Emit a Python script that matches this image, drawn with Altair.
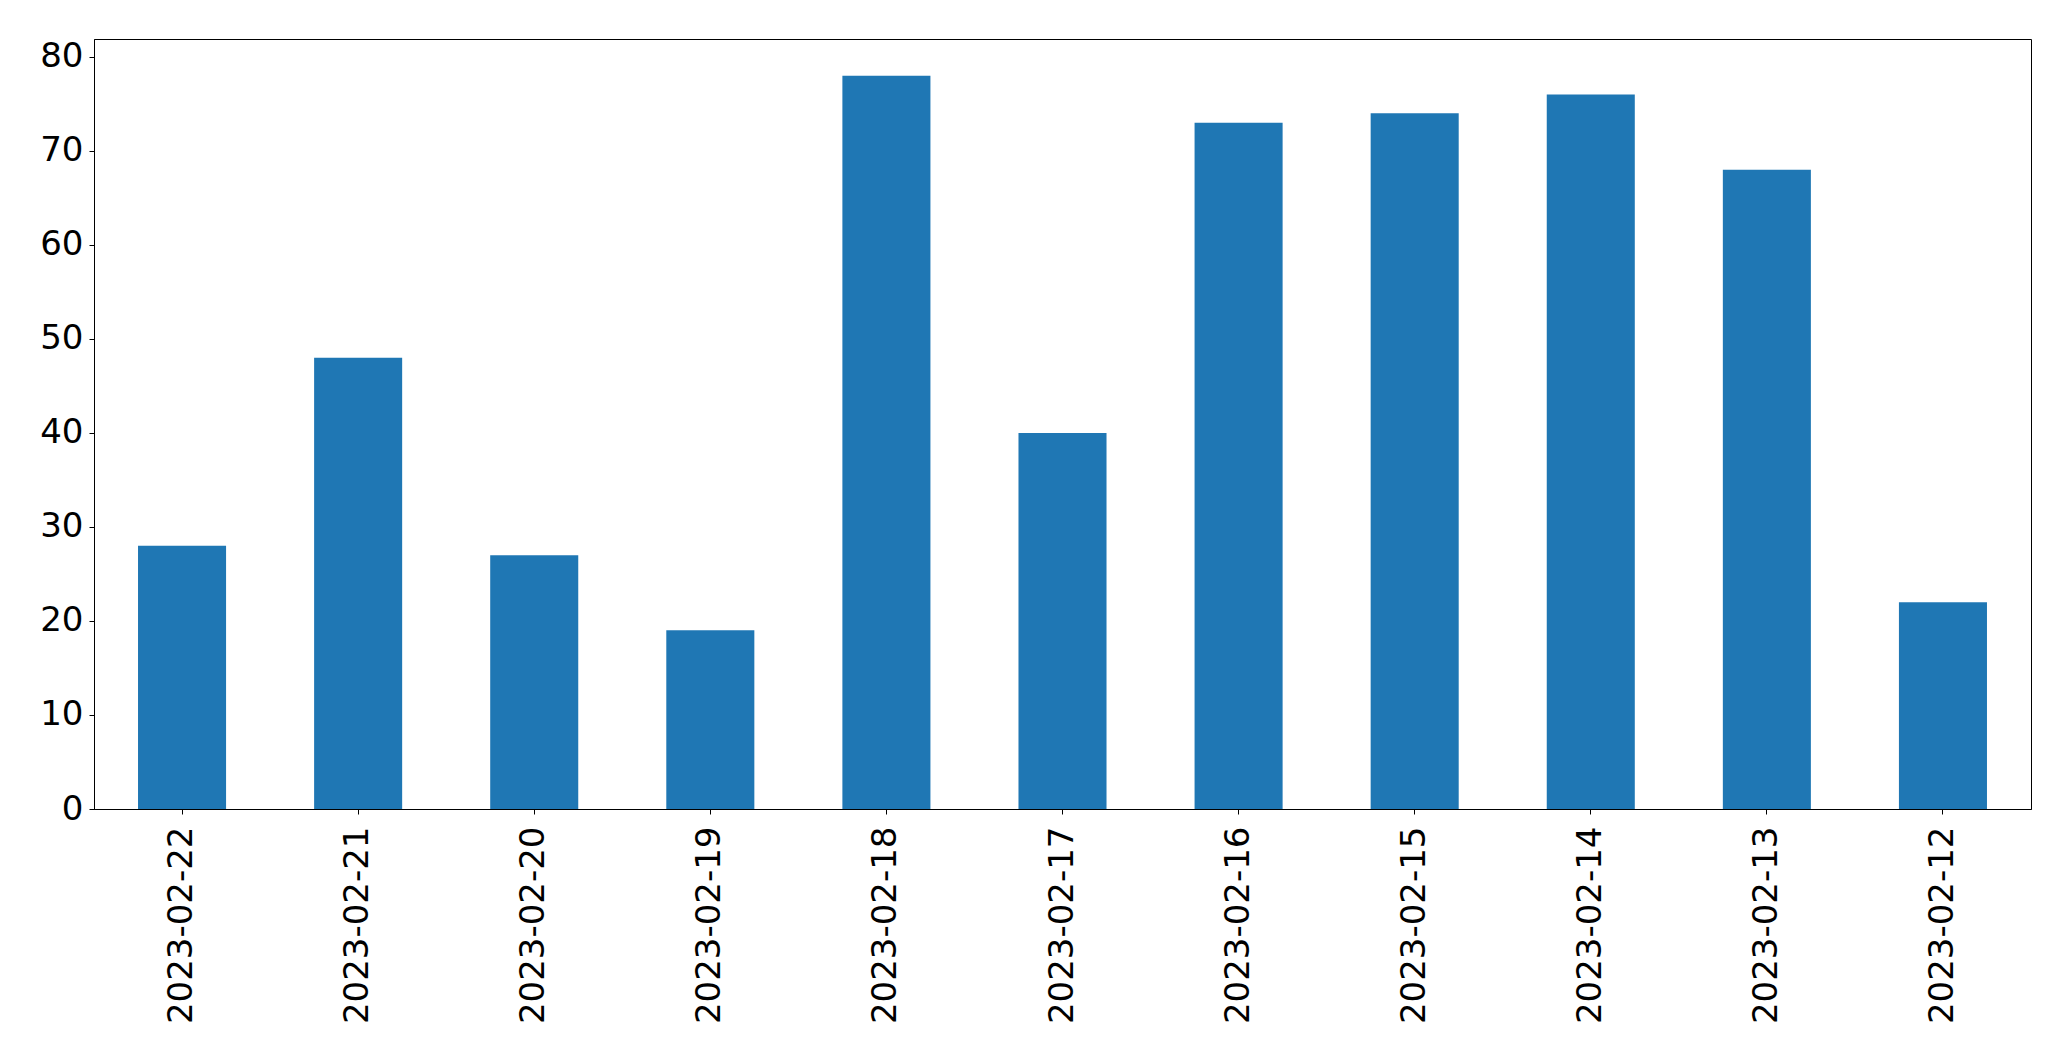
import altair as alt
import pandas as pd

dates = ["2023-02-22", "2023-02-21", "2023-02-20", "2023-02-19", "2023-02-18",
         "2023-02-17", "2023-02-16", "2023-02-15", "2023-02-14", "2023-02-13",
         "2023-02-12"]
counts = [28, 48, 27, 19, 78, 40, 73, 74, 76, 68, 22]
y_ticks = [0, 10, 20, 30, 40, 50, 60, 70, 80]

df = pd.DataFrame({"date": dates, "count": counts})

FONT = "DejaVu Sans"
FS = 34

chart = alt.Chart(df).mark_bar(color="#1f77b4").encode(
    x=alt.X("date:N", sort=None, title=None,
            scale=alt.Scale(paddingInner=0.5, paddingOuter=0.25),
            axis=alt.Axis(labelAngle=-90, labelFont=FONT, labelFontSize=FS,
                          labelColor="black", tickColor="black", tickSize=5,
                          tickWidth=1, domainColor="black", domainWidth=1,
                          labelPadding=12, labelLimit=0, grid=False)),
    y=alt.Y("count:Q", title=None,
            scale=alt.Scale(domain=[0, 81.9], nice=False, zero=True),
            axis=alt.Axis(values=y_ticks, format="d", labelFont=FONT,
                          labelFontSize=FS, labelColor="black",
                          tickColor="black", tickSize=5, tickWidth=1,
                          domainColor="black", domainWidth=1, labelPadding=6,
                          grid=False)),
).properties(
    width=1937,
    height=770,
    background="white",
    autosize=alt.AutoSizeParams(type="none"),
    padding={"left": 86, "top": 31, "right": 20, "bottom": 230},
).configure_view(
    stroke="black", strokeWidth=1
)

chart.save("out.html", embed_options={"renderer": "svg", "actions": False})
